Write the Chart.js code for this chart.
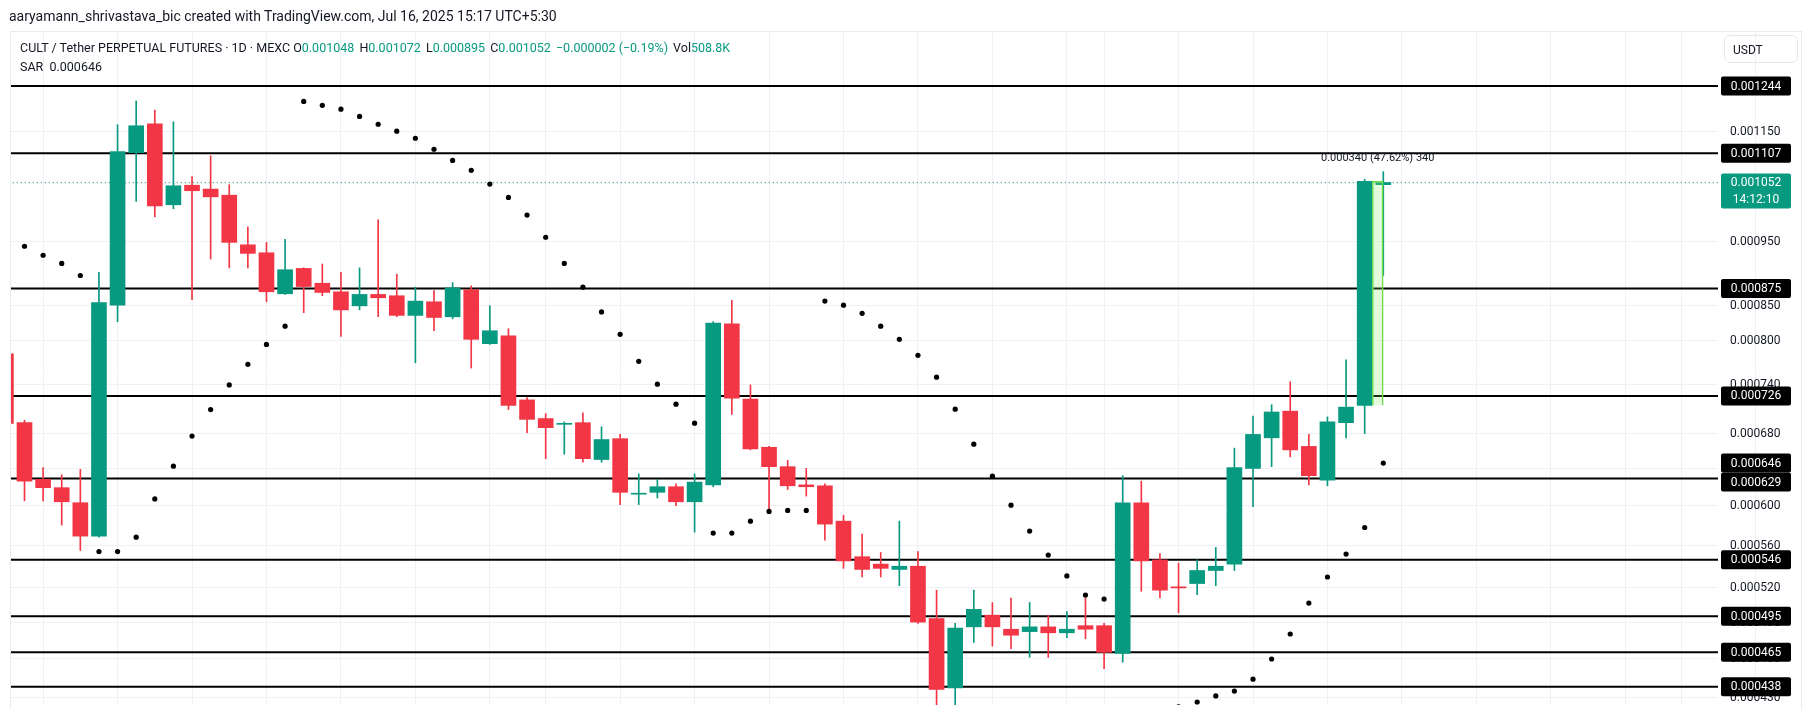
<!DOCTYPE html>
<html>
<head>
<meta charset="utf-8">
<script src="https://cdn.jsdelivr.net/npm/chart.js@4.4.1/dist/chart.umd.min.js"></script>
<style>
body { margin: 0; background: #fff; font-family: Roboto, "Liberation Sans", sans-serif; color: #131722; }
#wrap { position: relative; width: 1814px; height: 709px; overflow: hidden; }
#c { position: absolute; left: 0; top: 0; }
#title { position: absolute; left: 9px; top: 8px; font-size: 14px; white-space: nowrap; }
#legend { position: absolute; left: 20px; top: 40px; font-size: 12.5px; white-space: nowrap; }
#legend .v { color: #089981; }
#legend .g { display: inline-block; width: 2px; }
#sar { position: absolute; left: 20px; top: 59px; font-size: 12.5px; white-space: nowrap; }
#usdt { position: absolute; left: 1724px; top: 35px; width: 74px; height: 28px; border: 1px solid #e6e8ee; border-radius: 6px;
        font-size: 12px; line-height: 28px; box-sizing: border-box; padding-left: 8px; }
#frame { position: absolute; left: 10px; top: 31px; width: 1792px; height: 690px; border: 1px solid #e9ebf0; box-sizing: border-box; }
</style>
</head>
<body>
<div id="wrap">
  <div id="frame"></div>
  <canvas id="c" width="1814" height="709"></canvas>
  <div id="title">aaryamann_shrivastava_bic created with TradingView.com, Jul 16, 2025 15:17 UTC+5:30</div>
  <div id="legend"></div>
  <div id="sar"></div>
  <div id="usdt">USDT</div>
</div>
<script>
// daily candles, first one is May 3 2025, last one Jul 16 2025
var startDate = new Date(2025, 4, 3);
var opens  = [0.000781,0.000693,0.000628,0.000619,0.000603,0.000569,0.000850,0.001108,0.001165,0.001012,
              0.001047,0.001040,0.001029,0.000944,0.000931,0.000867,0.000906,0.000883,0.000870,0.000849,
              0.000866,0.000864,0.000835,0.000855,0.000833,0.000873,0.000795,0.000806,0.000721,0.000698,
              0.000691,0.000693,0.000650,0.000674,0.000612,0.000614,0.000620,0.000604,0.000622,0.000823,
              0.000722,0.000664,0.000642,0.000622,0.000621,0.000584,0.000549,0.000542,0.000537,0.000540,
              0.000493,0.000437,0.000486,0.000496,0.000484,0.000482,0.000486,0.000481,0.000487,0.000487,
              0.000464,0.000603,0.000546,0.000521,0.000524,0.000536,0.000542,0.000640,0.000675,0.000707,
              0.000665,0.000627,0.000693,0.000714,0.001048];
var highs  = [0.000781,0.000696,0.000641,0.000633,0.000639,0.000900,0.001163,0.001212,0.001193,0.001169,
              0.001063,0.001102,0.001048,0.000974,0.000948,0.000953,0.000907,0.000913,0.000900,0.000907,
              0.000986,0.000897,0.000877,0.000872,0.000884,0.000879,0.000849,0.000816,0.000724,0.000704,
              0.000694,0.000705,0.000688,0.000679,0.000634,0.000628,0.000623,0.000634,0.000826,0.000857,
              0.000740,0.000665,0.000649,0.000640,0.000623,0.000590,0.000571,0.000553,0.000584,0.000554,
              0.000518,0.000489,0.000518,0.000507,0.000511,0.000507,0.000496,0.000499,0.000511,0.000489,
              0.000632,0.000626,0.000552,0.000543,0.000546,0.000558,0.000663,0.000701,0.000715,0.000744,
              0.000679,0.000700,0.000773,0.001058,0.001072];
var lows   = [0.000692,0.000605,0.000605,0.000580,0.000555,0.000568,0.000826,0.001018,0.000991,0.001005,
              0.000858,0.000921,0.000907,0.000907,0.000855,0.000866,0.000839,0.000864,0.000805,0.000843,
              0.000833,0.000833,0.000769,0.000813,0.000830,0.000762,0.000794,0.000709,0.000681,0.000651,
              0.000656,0.000647,0.000647,0.000601,0.000601,0.000608,0.000600,0.000573,0.000620,0.000703,
              0.000661,0.000594,0.000617,0.000610,0.000565,0.000538,0.000530,0.000530,0.000522,0.000489,
              0.000415,0.000415,0.000473,0.000470,0.000468,0.000461,0.000461,0.000477,0.000476,0.000452,
              0.000457,0.000517,0.000511,0.000498,0.000514,0.000522,0.000536,0.000599,0.000642,0.000653,
              0.000622,0.000621,0.000675,0.000680,0.000895];
var closes = [0.000692,0.000626,0.000619,0.000604,0.000569,0.000854,0.001110,0.001161,0.001010,0.001046,
              0.001037,0.001026,0.000948,0.000930,0.000870,0.000904,0.000878,0.000869,0.000843,0.000866,
              0.000861,0.000835,0.000856,0.000832,0.000876,0.000801,0.000813,0.000714,0.000697,0.000687,
              0.000692,0.000651,0.000673,0.000614,0.000613,0.000620,0.000604,0.000625,0.000824,0.000723,
              0.000662,0.000642,0.000621,0.000620,0.000581,0.000545,0.000537,0.000538,0.000540,0.000490,
              0.000436,0.000485,0.000501,0.000486,0.000479,0.000486,0.000481,0.000484,0.000484,0.000465,
              0.000603,0.000545,0.000518,0.000520,0.000536,0.000540,0.000641,0.000679,0.000706,0.000661,
              0.000632,0.000694,0.000712,0.001054,0.001052];
// parabolic SAR, null where the dot is off the chart
var sar = [null,0.0009416,0.000927,0.000914,0.000895,0.000554,0.000554,0.000568,0.000607,0.0006425,
           0.000677,0.000709,0.000740,0.000767,0.000794,0.0008195,0.001211,0.001203,0.001195,0.001180,
           0.001164,0.001150,0.001136,0.0011145,0.001093,0.0010745,0.001049,0.001025,0.000994,0.0009565,
           0.000914,0.000877,0.000840,0.000808,0.000771,0.000741,0.0007156,0.0006924,0.000572,0.000572,
           0.000584,0.000594,0.000595,0.000595,0.000856,0.000850,0.000838,0.0008195,0.000801,0.000779,
           0.000750,0.0007094,0.0006676,0.0006315,0.0006004,0.000574,0.0005506,0.000531,0.0005136,0.000510,
           null,null,null,0.000423,0.0004265,0.000431,0.0004347,0.0004438,0.0004596,0.000480,
           0.0005065,0.000530,0.0005515,0.0005776,0.000646];
var levels = [0.001244, 0.001107, 0.000875, 0.000726, 0.000629, 0.000546, 0.000495, 0.000465, 0.000438];
var yTicks = [0.00115, 0.00105, 0.00095, 0.00085, 0.0008, 0.00074, 0.00068, 0.00064, 0.0006, 0.00056,
              0.00052, 0.00049, 0.00046, 0.00043];
var lastPrice = 0.001052;
var countdown = '14:12:10';
var measure = [0.000714, 0.001054];
var volume = '508.8K';

var up = '#089981', down = '#f23645';
var xMin = 0.275, xMax = 92;
var yMin = 0.0004215, yMax = 0.0013663;

// where the screenshot puts two of the levels and two of the candles (pixels)
var anchorY = [[86, levels[0]], [686.7, levels[levels.length - 1]]];
var anchorX = [[24.5, 1], [1383.3, 74]];

var n = opens.length;
var idx = opens.map(function (v, i) { return i; });
var colors = idx.map(function (i) { return closes[i] >= opens[i] ? up : down; });

// vertical grid on day 1,5,9,... of each month
var gridIdx = [];
for (var i = 0; i <= 95; i++) {
    var d = new Date(startDate.getTime());
    d.setDate(d.getDate() + i);
    if (d.getDate() % 4 == 1) gridIdx.push(i);
}

function fmt(v) { return v.toFixed(6); }

// header text
var last = n - 1;
var chg = closes[last] - closes[last - 1];
var pct = chg / closes[last - 1] * 100;
var sign = chg < 0 ? '\u2212' : '+';
var gap = '<span class="g"></span>';
document.getElementById('legend').innerHTML =
    'CULT / Tether PERPETUAL FUTURES \u00b7 1D \u00b7 MEXC ' +
    'O<span class="v">' + fmt(opens[last]) + '</span> ' + gap +
    'H<span class="v">' + fmt(highs[last]) + '</span> ' + gap +
    'L<span class="v">' + fmt(lows[last]) + '</span> ' + gap +
    'C<span class="v">' + fmt(closes[last]) + '</span> ' + gap +
    '<span class="v">' + sign + fmt(Math.abs(chg)) + ' (' + sign + Math.abs(pct).toFixed(2) + '%)</span> ' + gap +
    'Vol<span class="v">' + volume + '</span>';
document.getElementById('sar').innerHTML = 'SAR&nbsp; ' + fmt(sar[last]);

var datasets = [];
datasets.push({
    type: 'bar', label: 'wicks',
    data: idx.map(function (i) { return { x: i, y: [lows[i], highs[i]] }; }),
    backgroundColor: colors, barThickness: 1, grouped: false, order: 3, clip: 0
});
datasets.push({
    type: 'bar', label: 'bodies',
    data: idx.map(function (i) { return { x: i, y: [opens[i], closes[i]] }; }),
    backgroundColor: colors, barThickness: 15, minBarLength: 1, grouped: false, order: 2, clip: 0
});
datasets.push({
    type: 'bar', label: 'measure',
    data: [{ x: last - 0.3, y: measure }],
    backgroundColor: 'rgba(130, 230, 100, 0.22)', borderColor: '#6fdc52', borderWidth: 1,
    barThickness: 11, grouped: false, order: 1, clip: 0
});
levels.forEach(function (L) {
    datasets.push({
        type: 'line', data: [{ x: -5, y: L }, { x: 100, y: L }],
        borderColor: '#000', borderWidth: 2, pointRadius: 0, order: 4, clip: 0
    });
});
datasets.push({
    type: 'line', data: [{ x: -5, y: lastPrice }, { x: 100, y: lastPrice }],
    borderColor: up, borderWidth: 1, borderDash: [1, 3], pointRadius: 0, order: 5, clip: 0
});
datasets.push({
    type: 'line', label: 'SAR',
    data: idx.map(function (i) { return { x: i, y: sar[i] }; }),
    showLine: false, pointRadius: 2.6, pointBackgroundColor: '#000', pointBorderWidth: 0, order: 0, clip: 0
});

// axis texts, price labels on the right and the measure text
var labelPlugin = {
    id: 'priceLabels',
    afterDraw: function (chart) {
        var ctx = chart.ctx, ys = chart.scales.y, xs = chart.scales.x;
        ctx.save();
        ctx.textBaseline = 'middle';

        // tick labels
        ctx.font = '12px Roboto';
        ctx.fillStyle = '#131722';
        ctx.textAlign = 'left';
        yTicks.forEach(function (v) {
            ctx.fillText(fmt(v), 1730, ys.getPixelForValue(v) + 0.5);
        });

        // measure text
        var mx = xs.getPixelForValue(last - 0.3);
        var my = ys.getPixelForValue(measure[1]);
        var diff = measure[1] - measure[0];
        ctx.font = '11px Roboto';
        ctx.textAlign = 'center';
        ctx.fillText(fmt(diff) + ' (' + (diff / measure[0] * 100).toFixed(2) + '%) ' + Math.round(diff * 1e6), mx, my - 23);

        // black boxes
        var boxes = levels.concat([sar[last]]).map(function (v) { return { v: v, y: ys.getPixelForValue(v) }; });
        boxes.sort(function (a, b) { return a.y - b.y; });
        var h = 19, bottom = -1e9;
        ctx.font = '12px Roboto';
        boxes.forEach(function (b) {
            var top = b.y - h / 2;
            if (top < bottom) top = bottom;
            bottom = top + h;
            ctx.fillStyle = '#000';
            ctx.beginPath();
            ctx.roundRect(1721, top, 70, h, 2);
            ctx.fill();
            ctx.fillStyle = '#fff';
            ctx.fillText(fmt(b.v), 1756, top + h / 2 + 0.5);
        });

        // last price box
        var py = ys.getPixelForValue(lastPrice);
        ctx.fillStyle = up;
        ctx.beginPath();
        ctx.roundRect(1721, py - 9, 70, 35, 2);
        ctx.fill();
        ctx.fillStyle = '#fff';
        ctx.fillText(fmt(lastPrice), 1756, py + 0.5);
        ctx.fillText(countdown, 1756, py + 18);
        ctx.restore();
    }
};

var chart = new Chart(document.getElementById('c'), {
    type: 'bar',
    data: { datasets: datasets },
    options: {
        responsive: false,
        animation: false,
        layout: { padding: { left: 11, top: 32, right: 0, bottom: 0 } },
        plugins: { legend: { display: false }, tooltip: { enabled: false } },
        scales: {
            x: {
                type: 'linear', min: xMin, max: xMax, offset: false,
                afterBuildTicks: function (s) { s.ticks = gridIdx.map(function (v) { return { value: v }; }); },
                afterFit: function (s) { s.height = 0; s.paddingLeft = 0; s.paddingRight = 0; },
                ticks: { display: false },
                grid: { color: '#f0f1f4', drawTicks: false, offset: false },
                border: { display: false }
            },
            y: {
                type: 'logarithmic', position: 'right', min: yMin, max: yMax,
                afterBuildTicks: function (s) { s.ticks = yTicks.map(function (v) { return { value: v }; }); },
                afterFit: function (s) { s.width = 96; s.paddingTop = 0; s.paddingBottom = 0; },
                ticks: { display: false },
                grid: { color: '#f0f1f4', drawTicks: false },
                border: { display: false }
            }
        }
    },
    plugins: [labelPlugin]
});

// fit the scale ranges to the plot area so the anchors land where the screenshot has them
var area = chart.chartArea;
var k = Math.log(anchorY[0][1] / anchorY[1][1]) / (anchorY[1][0] - anchorY[0][0]);
chart.options.scales.y.max = anchorY[0][1] * Math.exp(k * (anchorY[0][0] - area.top));
chart.options.scales.y.min = anchorY[1][1] * Math.exp(-k * (area.bottom - anchorY[1][0]));
var ppx = (anchorX[1][0] - anchorX[0][0]) / (anchorX[1][1] - anchorX[0][1]);
chart.options.scales.x.min = anchorX[0][1] - (anchorX[0][0] - area.left) / ppx;
chart.options.scales.x.max = anchorX[1][1] + (area.right - anchorX[1][0]) / ppx;
chart.update();
</script>
</body>
</html>
